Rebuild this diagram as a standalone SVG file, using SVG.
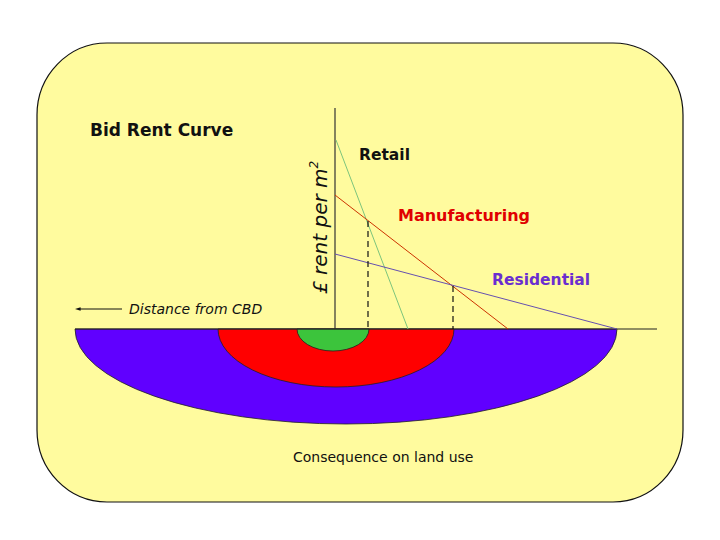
<svg xmlns="http://www.w3.org/2000/svg" width="720" height="540" viewBox="0 0 720 540">
<defs>
<style>
.t{font-family:"DejaVu Sans","Liberation Sans",sans-serif}
.b{font-weight:bold}
.i{font-style:italic}
.zone{stroke:#222;stroke-width:0.8}
</style>
<marker id="ah" viewBox="0 0 10 10" refX="1" refY="5" markerWidth="6" markerHeight="6" orient="auto-start-reverse"><path d="M0,2 L10,5 L0,8 Z" fill="#111"/></marker>
</defs>
<rect width="720" height="540" fill="#fff"/>
<rect id="frame" x="37" y="43" width="646" height="459" rx="70" ry="72" fill="#FFFB9E" stroke="#111" stroke-width="1.2"/>
<g id="zones">
<path id="residential-zone" class="zone" d="M75,329 A271,95 0 0 0 617,329 Z" fill="#6000FF"/>
<path id="manufacturing-zone" class="zone" d="M218,329 A118,58 0 0 0 454,329 Z" fill="#FF0000"/>
<path id="retail-zone" class="zone" d="M297,329 A36,22 0 0 0 369,329 Z" fill="#3CC43C"/>
</g>
<g id="connectors" fill="none">
<line x1="335" y1="108" x2="335" y2="329" stroke="#333" stroke-width="1.2"/>
<line x1="75" y1="329" x2="657" y2="329" stroke="#222" stroke-width="1.2"/>
<line x1="336" y1="140" x2="408" y2="329" stroke="#7cc47c" stroke-width="1"/>
<line x1="335" y1="195" x2="508" y2="329" stroke="#cc3300" stroke-width="1"/>
<line x1="335" y1="254" x2="617" y2="329" stroke="#6650b0" stroke-width="1"/>
<line x1="368" y1="221" x2="368" y2="329" stroke="#111" stroke-width="1.2" stroke-dasharray="6,4"/>
<line x1="453" y1="286" x2="453" y2="329" stroke="#111" stroke-width="1.2" stroke-dasharray="6,4"/>
<line x1="122" y1="309" x2="80" y2="309" stroke="#111" stroke-width="1" marker-end="url(#ah)"/>
</g>
<g id="labels">
<text class="t b" x="90" y="136" font-size="17" fill="#111">Bid Rent Curve</text>
<text class="t b" x="359" y="160" font-size="15.5" fill="#111">Retail</text>
<text class="t b" x="398" y="221" font-size="16" fill="#E00000">Manufacturing</text>
<text class="t b" x="492" y="285" font-size="15.5" fill="#6A2ED0">Residential</text>
<text class="t i" transform="translate(327,294) rotate(-90)" font-size="20" fill="#111">£ rent per m<tspan font-size="12" dy="-9">2</tspan></text>
<text class="t i" x="129" y="314" font-size="14" fill="#111">Distance from CBD</text>
<text class="t" x="293" y="462" font-size="14" fill="#111">Consequence on land use</text>
</g>
</svg>
